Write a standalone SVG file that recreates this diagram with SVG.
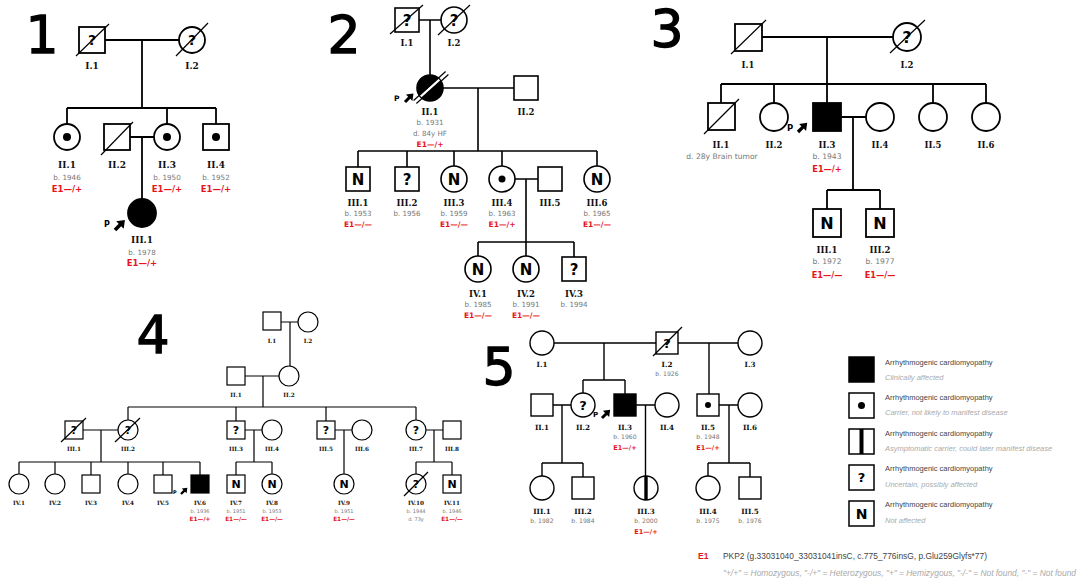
<svg xmlns="http://www.w3.org/2000/svg" width="1081" height="583" viewBox="0 0 1081 583">
<defs>
<style>
.sy{fill:#fff;stroke:#000}
.fk{fill:#000;stroke:#000}
.ln{fill:none;stroke:#000}
.sl{stroke:#000;stroke-width:1.2}
.lb{font-family:"DejaVu Serif",serif;font-weight:bold;text-anchor:middle;fill:#111}
.bd{font-family:"DejaVu Sans",sans-serif;fill:#777;text-anchor:middle}
.e1{font-family:"DejaVu Sans",sans-serif;font-weight:bold;fill:#e8141b;text-anchor:middle}
.in{font-family:"DejaVu Sans",sans-serif;font-weight:bold;text-anchor:middle;fill:#000;stroke:none}
.pp{font-family:"DejaVu Sans",sans-serif;font-weight:bold;fill:#000}
.big{font-family:"DejaVu Sans",sans-serif;font-size:52px;text-anchor:middle;fill:#000;stroke:#000;stroke-width:1.3px}
.lt{font-family:"Liberation Sans",Arial,sans-serif;font-size:7.5px;fill:#444}
.ls{font-family:"Liberation Sans",Arial,sans-serif;font-size:7.5px;font-style:italic;fill:#aaa}
#ped1 .lb{font-size:9px}#ped1 .bd{font-size:7.2px}#ped1 .e1{font-size:8.5px}#ped1 .in{font-size:14px}
#ped2 .lb{font-size:8.5px}#ped2 .bd{font-size:7.1px}#ped2 .e1{font-size:7.5px}#ped2 .in{font-size:15px}
#ped3 .lb{font-size:8.5px}#ped3 .bd{font-size:7.6px}#ped3 .e1{font-size:8.2px}#ped3 .in{font-size:16px}
#ped4 .lb{font-size:5.7px}#ped4 .bd{font-size:5px}#ped4 .e1{font-size:5.8px}#ped4 .in{font-size:11px}
#ped5 .lb{font-size:7.2px}#ped5 .bd{font-size:6.1px}#ped5 .e1{font-size:6.5px}#ped5 .in{font-size:13px}
</style>
<path id="parrow" d="M0,-1.3 H5 V-3.8 L10,0 L5,3.8 V1.3 H0 Z" fill="#000"/>
</defs>
<rect width="1081" height="583" fill="#fff"/>

<!-- Pedigree 1 -->
<g id="ped1" style="stroke-width:1.8">
<text class="big" x="42" y="53">1</text>
<g id="p1-connectors" class="ln">
<path d="M105 40 H179 M142 40 V108 M67 108 H216 M67 108 V124 M167 108 V124 M216 108 V124 M130 137 H154 M142 137 V199"/>
</g>
<g id="p1-I1"><rect class="sy" x="79" y="27" width="26" height="26"/><text class="in" x="92" y="45">?</text><line class="sl" x1="76" y1="56" x2="109" y2="24"/><text class="lb" x="92" y="69">I.1</text></g>
<g id="p1-I2"><circle class="sy" cx="192" cy="40" r="13"/><text class="in" x="192" y="45">?</text><line class="sl" x1="176" y1="56" x2="208" y2="23"/><text class="lb" x="192" y="69">I.2</text></g>
<g id="p1-II1"><circle class="sy" cx="67" cy="137" r="13"/><circle cx="67" cy="137" r="4"/><text class="lb" x="67" y="168">II.1</text><text class="bd" x="67" y="180">b. 1946</text><text class="e1" x="67" y="191.5">E1—/+</text></g>
<g id="p1-II2"><rect class="sy" x="104" y="124" width="26" height="26"/><line class="sl" x1="101" y1="155" x2="133" y2="122"/><text class="lb" x="117" y="168">II.2</text></g>
<g id="p1-II3"><circle class="sy" cx="167" cy="137" r="13"/><circle cx="167" cy="137" r="4"/><text class="lb" x="167" y="168">II.3</text><text class="bd" x="167" y="180">b. 1950</text><text class="e1" x="167" y="191.5">E1—/+</text></g>
<g id="p1-II4"><rect class="sy" x="203" y="124" width="26" height="26"/><circle cx="216" cy="137" r="4"/><text class="lb" x="216" y="168">II.4</text><text class="bd" x="216" y="180">b. 1952</text><text class="e1" x="216" y="191.5">E1—/+</text></g>
<g id="p1-III1"><circle class="fk" cx="142" cy="213" r="14"/><text class="pp" x="104" y="227" font-size="8">P</text><use href="#parrow" transform="translate(115,230) rotate(-45) scale(1.4)"/><text class="lb" x="142" y="243">III.1</text><text class="bd" x="142" y="254.5">b. 1978</text><text class="e1" x="142" y="265.5">E1—/+</text></g>
</g>

<!-- Pedigree 2 -->
<g id="ped2" style="stroke-width:1.6">
<text class="big" x="344" y="53">2</text>
<g id="p2-connectors" class="ln">
<path d="M419 20 H441 M430 20 V75 M443 88 H514 M478 88 V151 M358 151 H597 M358 151 V167 M407 151 V167 M454 151 V166 M502 151 V166 M597 151 V166 M515 179 H538 M526 179 V242 M478 242 H574 M478 242 V256 M526 242 V256 M574 242 V257"/>
</g>
<g id="p2-I1"><rect class="sy" x="395" y="8" width="24" height="24"/><text class="in" x="407" y="25.5">?</text><line class="sl" x1="390" y1="34" x2="423" y2="5"/><text class="lb" x="407" y="46">I.1</text></g>
<g id="p2-I2"><circle class="sy" cx="454" cy="20" r="13"/><text class="in" x="454" y="25.5">?</text><line class="sl" x1="438" y1="35" x2="470" y2="5"/><text class="lb" x="454" y="46">I.2</text></g>
<g id="p2-II1"><circle class="fk" cx="430" cy="88" r="13"/><line x1="420.7" y1="96.4" x2="439.3" y2="79.6" stroke="#fff" stroke-width="2.6"/><line class="sl" x1="413.6" y1="100.5" x2="445.6" y2="71.5"/><line class="sl" x1="416.4" y1="103.5" x2="448.4" y2="74.5"/><text class="pp" x="394" y="101" font-size="7.5">P</text><use href="#parrow" transform="translate(405,102) rotate(-45) scale(1.2)"/><text class="lb" x="430" y="115">II.1</text><text class="bd" x="430" y="125">b. 1931</text><text class="bd" x="430" y="136">d. 84y HF</text><text class="e1" x="430" y="147">E1—/+</text></g>
<g id="p2-II2"><rect class="sy" x="514" y="76" width="24" height="24"/><text class="lb" x="526" y="115">II.2</text></g>
<g id="p2-III1"><rect class="sy" x="346" y="167" width="24" height="24"/><text class="in" x="358" y="184.5">N</text><text class="lb" x="358" y="206">III.1</text><text class="bd" x="358" y="216">b. 1953</text><text class="e1" x="358" y="227">E1—/—</text></g>
<g id="p2-III2"><rect class="sy" x="395" y="167" width="24" height="24"/><text class="in" x="407" y="184.5">?</text><text class="lb" x="407" y="206">III.2</text><text class="bd" x="407" y="216">b. 1956</text></g>
<g id="p2-III3"><circle class="sy" cx="454" cy="179" r="13"/><text class="in" x="454" y="184.5">N</text><text class="lb" x="454" y="206">III.3</text><text class="bd" x="454" y="216">b. 1959</text><text class="e1" x="454" y="227">E1—/—</text></g>
<g id="p2-III4"><circle class="sy" cx="502" cy="179" r="13"/><circle cx="502" cy="179" r="3.5"/><text class="lb" x="502" y="206">III.4</text><text class="bd" x="502" y="216">b. 1963</text><text class="e1" x="502" y="227">E1—/+</text></g>
<g id="p2-III5"><rect class="sy" x="538" y="167" width="24" height="24"/><text class="lb" x="550" y="206">III.5</text></g>
<g id="p2-III6"><circle class="sy" cx="597" cy="179" r="13"/><text class="in" x="597" y="184.5">N</text><text class="lb" x="597" y="206">III.6</text><text class="bd" x="597" y="216">b. 1965</text><text class="e1" x="597" y="227">E1—/—</text></g>
<g id="p2-IV1"><circle class="sy" cx="478" cy="269" r="13"/><text class="in" x="478" y="274.5">N</text><text class="lb" x="478" y="297">IV.1</text><text class="bd" x="478" y="307">b. 1985</text><text class="e1" x="478" y="318">E1—/—</text></g>
<g id="p2-IV2"><circle class="sy" cx="526" cy="269" r="13"/><text class="in" x="526" y="274.5">N</text><text class="lb" x="526" y="297">IV.2</text><text class="bd" x="526" y="307">b. 1991</text><text class="e1" x="526" y="318">E1—/—</text></g>
<g id="p2-IV3"><rect class="sy" x="562" y="257" width="24" height="24"/><text class="in" x="574" y="274.5">?</text><text class="lb" x="574" y="297">IV.3</text><text class="bd" x="574" y="307">b. 1994</text></g>
</g>

<!-- Pedigree 3 -->
<g id="ped3" style="stroke-width:1.8">
<text class="big" x="667" y="47">3</text>
<g id="p3-connectors" class="ln">
<path d="M762 37 H893 M827 37 V84 M721 84 H986 M721 84 V103 M774 84 V103 M827 84 V103 M933 84 V103 M986 84 V103 M841 117 H866 M853 117 V190 M827 190 H880 M827 190 V209 M880 190 V209"/>
</g>
<g id="p3-I1"><rect class="sy" x="735" y="24" width="27" height="27"/><line class="sl" x1="731" y1="54" x2="766" y2="20"/><text class="lb" x="748" y="68">I.1</text></g>
<g id="p3-I2"><circle class="sy" cx="907" cy="37" r="14"/><text class="in" x="907" y="43">?</text><line class="sl" x1="890" y1="53" x2="925" y2="20"/><text class="lb" x="907" y="68">I.2</text></g>
<g id="p3-II1"><rect class="sy" x="708" y="103" width="27" height="27"/><line class="sl" x1="704" y1="134" x2="739" y2="99"/><text class="lb" x="721" y="148">II.1</text><text class="bd" x="722" y="159">d. 28y Brain tumor</text></g>
<g id="p3-II2"><circle class="sy" cx="774" cy="117" r="14"/><text class="lb" x="774" y="148">II.2</text></g>
<g id="p3-II3"><rect class="fk" x="813" y="103" width="28" height="28"/><text class="pp" x="787" y="131" font-size="8.5">P</text><use href="#parrow" transform="translate(798,132) rotate(-45) scale(1.3)"/><text class="lb" x="827" y="148">II.3</text><text class="bd" x="827" y="159">b. 1943</text><text class="e1" x="827" y="172">E1—/+</text></g>
<g id="p3-II4"><circle class="sy" cx="880" cy="117" r="14"/><text class="lb" x="880" y="148">II.4</text></g>
<g id="p3-II5"><circle class="sy" cx="933" cy="117" r="14"/><text class="lb" x="933" y="148">II.5</text></g>
<g id="p3-II6"><circle class="sy" cx="986" cy="117" r="14"/><text class="lb" x="986" y="148">II.6</text></g>
<g id="p3-III1"><rect class="sy" x="813" y="209" width="28" height="28"/><text class="in" x="827" y="229">N</text><text class="lb" x="827" y="253">III.1</text><text class="bd" x="827" y="264">b. 1972</text><text class="e1" x="827" y="278">E1—/—</text></g>
<g id="p3-III2"><rect class="sy" x="866" y="209" width="28" height="28"/><text class="in" x="880" y="229">N</text><text class="lb" x="880" y="253">III.2</text><text class="bd" x="880" y="264">b. 1977</text><text class="e1" x="880" y="278">E1—/—</text></g>
</g>

<!-- Pedigree 4 -->
<g id="ped4" style="stroke-width:1.2">
<text class="big" x="153" y="353">4</text>
<g id="p4-connectors" class="ln">
<path d="M281 322 H298 M290 322 V366 M245 376 H279 M263 376 V407 M128 407 H416 M128 407 V420 M236 407 V421 M326 407 V421 M416 407 V420 M83 430 H118 M101 430 V462 M19 462 H200 M19 462 V474 M55 462 V474 M91 462 V475 M128 462 V474 M163 462 V475 M200 462 V475 M245 430 H262 M254 430 V462 M236 462 H272 M236 462 V475 M272 462 V474 M335 430 H352 M344 430 V474 M426 430 H443 M434 430 V462 M416 462 H452 M416 462 V474 M452 462 V475"/>
</g>
<g id="p4-I1"><rect class="sy" x="263" y="312" width="18" height="18"/><text class="lb" x="272" y="343">I.1</text></g>
<g id="p4-I2"><circle class="sy" cx="308" cy="322" r="10"/><text class="lb" x="308" y="343">I.2</text></g>
<g id="p4-II1"><rect class="sy" x="227" y="367" width="18" height="18"/><text class="lb" x="236" y="397">II.1</text></g>
<g id="p4-II2"><circle class="sy" cx="289" cy="376" r="10"/><text class="lb" x="289" y="397">II.2</text></g>
<g id="p4-III1"><rect class="sy" x="65" y="421" width="18" height="18"/><text class="in" x="74" y="434">?</text><line class="sl" x1="61" y1="442" x2="86" y2="418"/><text class="lb" x="74" y="451">III.1</text></g>
<g id="p4-III2"><circle class="sy" cx="128" cy="430" r="10"/><text class="in" x="128" y="434">?</text><line class="sl" x1="115" y1="442" x2="140" y2="418"/><text class="lb" x="128" y="451">III.2</text></g>
<g id="p4-III3"><rect class="sy" x="227" y="421" width="18" height="18"/><text class="in" x="236" y="434">?</text><text class="lb" x="236" y="451">III.3</text></g>
<g id="p4-III4"><circle class="sy" cx="272" cy="430" r="10"/><text class="lb" x="272" y="451">III.4</text></g>
<g id="p4-III5"><rect class="sy" x="317" y="421" width="18" height="18"/><text class="in" x="326" y="434">?</text><text class="lb" x="326" y="451">III.5</text></g>
<g id="p4-III6"><circle class="sy" cx="362" cy="430" r="10"/><text class="lb" x="362" y="451">III.6</text></g>
<g id="p4-III7"><circle class="sy" cx="416" cy="430" r="10"/><text class="in" x="416" y="434">?</text><text class="lb" x="416" y="451">III.7</text></g>
<g id="p4-III8"><rect class="sy" x="443" y="421" width="18" height="18"/><text class="lb" x="452" y="451">III.8</text></g>
<g id="p4-IV1"><circle class="sy" cx="19" cy="484" r="10"/><text class="lb" x="19" y="505">IV.1</text></g>
<g id="p4-IV2"><circle class="sy" cx="55" cy="484" r="10"/><text class="lb" x="55" y="505">IV.2</text></g>
<g id="p4-IV3"><rect class="sy" x="82" y="475" width="18" height="18"/><text class="lb" x="91" y="505">IV.3</text></g>
<g id="p4-IV4"><circle class="sy" cx="128" cy="484" r="10"/><text class="lb" x="128" y="505">IV.4</text></g>
<g id="p4-IV5"><text class="pp" x="173" y="494" font-size="5">P</text><rect class="sy" x="154" y="475" width="18" height="18"/><text class="lb" x="163" y="505">IV.5</text></g>
<g id="p4-IV6"><rect class="fk" x="191" y="475" width="18" height="18"/><use href="#parrow" transform="translate(181,494) rotate(-45) scale(0.9)"/><text class="lb" x="200" y="505">IV.6</text><text class="bd" x="200" y="513">b. 1936</text><text class="e1" x="200" y="521">E1—/+</text></g>
<g id="p4-IV7"><rect class="sy" x="227" y="475" width="18" height="18"/><text class="in" x="236" y="488">N</text><text class="lb" x="236" y="505">IV.7</text><text class="bd" x="236" y="513">b. 1951</text><text class="e1" x="236" y="521">E1—/—</text></g>
<g id="p4-IV8"><circle class="sy" cx="272" cy="484" r="10"/><text class="in" x="272" y="488">N</text><text class="lb" x="272" y="505">IV.8</text><text class="bd" x="272" y="513">b. 1953</text><text class="e1" x="272" y="521">E1—/—</text></g>
<g id="p4-IV9"><circle class="sy" cx="344" cy="484" r="10"/><text class="in" x="344" y="488">N</text><text class="lb" x="344" y="505">IV.9</text><text class="bd" x="344" y="513">b. 1951</text><text class="e1" x="344" y="521">E1—/—</text></g>
<g id="p4-IV10"><circle class="sy" cx="416" cy="484" r="10"/><text class="in" x="416" y="488">?</text><line class="sl" x1="404" y1="496" x2="428" y2="472"/><text class="lb" x="416" y="505">IV.10</text><text class="bd" x="416" y="513">b. 1944</text><text class="bd" x="416" y="521">d. 73y</text></g>
<g id="p4-IV11"><rect class="sy" x="443" y="475" width="18" height="18"/><text class="in" x="452" y="488">N</text><text class="lb" x="452" y="505">IV.11</text><text class="bd" x="452" y="513">b. 1946</text><text class="e1" x="452" y="521">E1—/—</text></g>
</g>

<!-- Pedigree 5 -->
<g id="ped5" style="stroke-width:1.4">
<text class="big" x="499" y="385">5</text>
<g id="p5-connectors" class="ln">
<path d="M554 343 H656 M678 343 H738 M604 343 V380 M709 343 V394 M583 380 H625 M583 380 V393 M625 380 V394 M553 405 H571 M562 405 V463 M636 405 H655 M645.5 405 V476 M719 405 H738 M729 405 V463 M542 463 H583 M542 463 V476 M583 463 V477 M708 463 H750 M708 463 V476 M750 463 V477"/>
</g>
<g id="p5-I1"><circle class="sy" cx="542" cy="343" r="12"/><text class="lb" x="542" y="367">I.1</text></g>
<g id="p5-I2"><rect class="sy" x="656" y="332" width="22" height="22"/><text class="in" x="667" y="348">?</text><line class="sl" x1="653" y1="356" x2="682" y2="327"/><text class="lb" x="667" y="367">I.2</text><text class="bd" x="667" y="375.5">b. 1926</text></g>
<g id="p5-I3"><circle class="sy" cx="750" cy="343" r="12"/><text class="lb" x="750" y="367">I.3</text></g>
<g id="p5-II1"><rect class="sy" x="531" y="394" width="22" height="22"/><text class="lb" x="542" y="430">II.1</text></g>
<g id="p5-II2"><circle class="sy" cx="583" cy="405" r="12"/><text class="in" x="583" y="410">?</text><text class="lb" x="583" y="430">II.2</text></g>
<g id="p5-II3"><rect class="fk" x="614" y="394" width="22" height="22"/><text class="pp" x="593" y="417" font-size="7">P</text><use href="#parrow" transform="translate(602,418) rotate(-45) scale(1.15)"/><text class="lb" x="625" y="430">II.3</text><text class="bd" x="625" y="439">b. 1960</text><text class="e1" x="625" y="450">E1—/+</text></g>
<g id="p5-II4"><circle class="sy" cx="667" cy="405" r="12"/><text class="lb" x="667" y="430">II.4</text></g>
<g id="p5-II5"><rect class="sy" x="697" y="394" width="22" height="22"/><circle cx="708" cy="405" r="3"/><text class="lb" x="708" y="430">II.5</text><text class="bd" x="708" y="439">b. 1948</text><text class="e1" x="708" y="450">E1—/+</text></g>
<g id="p5-II6"><circle class="sy" cx="750" cy="405" r="12"/><text class="lb" x="750" y="430">II.6</text></g>
<g id="p5-III1"><circle class="sy" cx="542" cy="488" r="12"/><text class="lb" x="542" y="514">III.1</text><text class="bd" x="542" y="523">b. 1982</text></g>
<g id="p5-III2"><rect class="sy" x="572" y="477" width="22" height="22"/><text class="lb" x="583" y="514">III.2</text><text class="bd" x="583" y="523">b. 1984</text></g>
<g id="p5-III3"><circle class="sy" cx="646" cy="488" r="12"/><rect x="644.3" y="476" width="3.4" height="24" fill="#000"/><text class="lb" x="646" y="514">III.3</text><text class="bd" x="646" y="523">b. 2000</text><text class="e1" x="646" y="534">E1—/+</text></g>
<g id="p5-III4"><circle class="sy" cx="708" cy="488" r="12"/><text class="lb" x="708" y="514">III.4</text><text class="bd" x="708" y="523">b. 1975</text></g>
<g id="p5-III5"><rect class="sy" x="739" y="477" width="22" height="22"/><text class="lb" x="750" y="514">III.5</text><text class="bd" x="750" y="523">b. 1976</text></g>
</g>

<!-- Legend -->
<g id="legend" style="stroke-width:1.5">
<g id="lg-affected"><rect class="fk" x="849" y="357" width="25" height="25"/><text class="lt" x="885" y="365">Arrhythmogenic cardiomyopathy</text><text class="ls" x="885" y="380">Clinically affected</text></g>
<g id="lg-carrier"><rect class="sy" x="849" y="393" width="25" height="25"/><circle cx="861.5" cy="405.5" r="3.5"/><text class="lt" x="885" y="400">Arrhythmogenic cardiomyopathy</text><text class="ls" x="885" y="415">Carrier, not likely to manifest disease</text></g>
<g id="lg-asymp"><rect class="sy" x="849" y="429" width="25" height="25"/><rect x="859.5" y="429" width="4" height="25" fill="#000"/><text class="lt" x="885" y="436">Arrhythmogenic cardiomyopathy</text><text class="ls" x="885" y="451">Asymptomatic carrier, could later manifest disease</text></g>
<g id="lg-uncertain"><rect class="sy" x="849" y="465" width="25" height="25"/><text class="in" x="861.5" y="482" font-size="13">?</text><text class="lt" x="885" y="471">Arrhythmogenic cardiomyopathy</text><text class="ls" x="885" y="487">Uncertain, possibly affected</text></g>
<g id="lg-notaff"><rect class="sy" x="849" y="501" width="25" height="25"/><text class="in" x="861.5" y="518.5" font-size="14">N</text><text class="lt" x="885" y="507">Arrhythmogenic cardiomyopathy</text><text class="ls" x="885" y="523">Not affected</text></g>
</g>

<!-- Footer -->
<g id="footer">
<text x="698" y="559" font-family="Liberation Sans, Arial, sans-serif" font-weight="bold" font-size="8.5" fill="#e8141b">E1</text>
<text x="723" y="559" font-family="Liberation Sans, Arial, sans-serif" font-size="8.2" fill="#444" textLength="264" lengthAdjust="spacingAndGlyphs">PKP2 (g.33031040_33031041insC, c.775_776insG, p.Glu259Glyfs*77)</text>
<text x="723" y="576" font-family="Liberation Sans, Arial, sans-serif" font-size="8.2" font-style="italic" fill="#aaa" textLength="353" lengthAdjust="spacingAndGlyphs">"+/+" = Homozygous, "-/+" = Heterozygous, "+" = Hemizygous, "-/-" = Not found, "-" = Not found</text>
</g>
</svg>
